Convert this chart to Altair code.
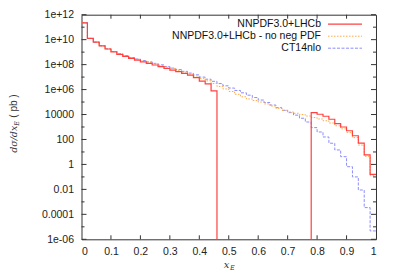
import altair as alt
import pandas as pd

# ---------------- data ----------------
series_names = ["NNPDF3.0+LHCb", "NNPDF3.0+LHCb - no neg PDF", "CT14nlo"]
series_colors = ["#ff4040", "#ffaa44", "#8c8cff"]

bin_start = [round(0.02 * i, 2) for i in range(50)]
bin_end_last = 1.0

# log10 of dsigma/dx_E (pb) per bin; None = negative (off-scale)
red_log = [11.35, 10.1, 9.8, 9.5, 9.25, 9.02, 8.82, 8.66, 8.5, 8.36,
           8.22, 8.1, 7.97, 7.84, 7.7, 7.56, 7.43, 7.3, 7.15, 6.96,
           6.68, 6.45, 5.9,
           None, None, None, None, None, None, None, None,
           None, None, None, None, None, None, None, None,
           4.15, 4.02, 3.86, 3.62, 3.27, 3.0, 2.7, 2.3, 1.7, 0.76, -0.8]
orange_log = [11.35, 10.1, 9.8, 9.51, 9.26, 9.04, 8.85, 8.7, 8.55, 8.42,
              8.3, 8.18, 8.06, 7.93, 7.8, 7.67, 7.54, 7.4, 7.25, 7.08,
              6.9, 6.7, 6.48,
              6.25, 6.05, 5.85, 5.62, 5.42, 5.25, 5.12, 5.0,
              4.85, 4.68, 4.5, 4.33, 4.2, 4.1, 4.0, 3.88,
              3.76, 3.64, 3.5, 3.32, 3.1, 2.85, 2.55, 2.15, 1.55, 0.65, -0.9]
blue_log = [11.35, 10.1, 9.8, 9.52, 9.27, 9.05, 8.87, 8.72, 8.57, 8.45,
            8.33, 8.22, 8.1, 7.98, 7.85, 7.72, 7.6, 7.46, 7.32, 7.18,
            7.0, 6.83, 6.66,
            6.48, 6.3, 6.12, 5.93, 5.74, 5.55, 5.36, 5.16,
            4.96, 4.76, 4.55, 4.34, 4.15, 3.95, 3.7, 3.4,
            2.95, 2.6, 2.2, 1.7, 1.16, 0.62, -0.18, -1.0, -2.05, -3.46, -5.33]

x_ticks = [0, 0.1, 0.2, 0.3, 0.4, 0.5, 0.6, 0.7, 0.8, 0.9, 1]
y_exponents = [-6, -4, -2, 0, 2, 4, 6, 8, 10, 12]
y_labels = ["1e-06", "0.0001", "0.01", "1", "100", "10000", "1e+06", "1e+08", "1e+10", "1e+12"]
y_minor_exponents = [-5, -3, -1, 1, 3, 5, 7, 9, 11]

OFF_SCALE = 1e-30  # negative values: drawn below the axis (clipped)

# ---------------- layout ----------------
W, H = 294.5, 224.6
FONT = "Liberation Sans"

xscale = alt.Scale(domain=[0, 1], nice=False, zero=False)
yscale = alt.Scale(type="log", domain=[1e-6, 1e12], nice=False)


def series_df(name, logs):
    xs = bin_start + [bin_end_last]
    vals = logs + [logs[-1]]
    return pd.DataFrame({
        "x": xs,
        "y": [OFF_SCALE if v is None else 10 ** v for v in vals],
        "series": name,
    })


label_expr = "".join(
    f"round(log(datum.value)/LN10) == {e} ? '{l}' : " for e, l in zip(y_exponents, y_labels)
) + "''"

xaxis = alt.Axis(values=x_ticks, format="~g", ticks=False, domain=False, grid=False,
                 labelPadding=7, title=None, labelFont=FONT, labelFontSize=10.5,
                 labelColor="#222")
yaxis = alt.Axis(values=[10.0 ** e for e in y_exponents], labelExpr=label_expr, ticks=False,
                 domain=False, grid=False, labelPadding=8, title=None, labelFont=FONT,
                 labelFontSize=10.5, labelColor="#222")

styles = {
    series_names[0]: dict(strokeWidth=1.2, strokeDash=[1, 0]),
    series_names[1]: dict(strokeWidth=1.0, strokeDash=[1.5, 1.5]),
    series_names[2]: dict(strokeWidth=1.0, strokeDash=[3, 1.5]),
}

layers = []
# draw blue, orange, red (red on top)
for name, logs, col in [(series_names[2], blue_log, series_colors[2]),
                        (series_names[1], orange_log, series_colors[1]),
                        (series_names[0], red_log, series_colors[0])]:
    st = styles[name]
    layers.append(
        alt.Chart(series_df(name, logs)).mark_line(
            interpolate="step-after", clip=True, color=col,
            strokeWidth=st["strokeWidth"], strokeDash=st["strokeDash"]
        ).encode(
            x=alt.X("x:Q", scale=xscale, axis=xaxis),
            y=alt.Y("y:Q", scale=yscale, axis=yaxis),
        )
    )

# inward ticks (gnuplot style)
ymaj = pd.DataFrame({"y": [10.0 ** e for e in y_exponents]})
ymin = pd.DataFrame({"y": [10.0 ** e for e in y_minor_exponents]})
xt = pd.DataFrame({"x": x_ticks[1:-1]})
tick_color = "#333"
for df, ln in [(ymaj, 5), (ymin, 3)]:
    layers.append(alt.Chart(df).mark_rule(color=tick_color, strokeWidth=1).encode(
        y=alt.Y("y:Q", scale=yscale, axis=yaxis), x=alt.value(0), x2=alt.value(ln)))
    layers.append(alt.Chart(df).mark_rule(color=tick_color, strokeWidth=1).encode(
        y=alt.Y("y:Q", scale=yscale, axis=yaxis), x=alt.value(W), x2=alt.value(W - ln)))
layers.append(alt.Chart(xt).mark_rule(color=tick_color, strokeWidth=1).encode(
    x=alt.X("x:Q", scale=xscale, axis=xaxis), y=alt.value(H), y2=alt.value(H - 4)))
layers.append(alt.Chart(xt).mark_rule(color=tick_color, strokeWidth=1).encode(
    x=alt.X("x:Q", scale=xscale, axis=xaxis), y=alt.value(0), y2=alt.value(4)))

# legend (labels left, samples right, gnuplot style)
one = pd.DataFrame({"a": [0]})
for i, (name, col) in enumerate(zip(series_names, series_colors)):
    ly = 9.5 + 12 * i
    st = styles[name]
    layers.append(alt.Chart(one).mark_text(
        align="right", baseline="middle", font=FONT, fontSize=10.5, color="#111"
    ).encode(x=alt.value(239.5), y=alt.value(ly), text=alt.value(name)))
    layers.append(alt.Chart(one).mark_rule(
        color=col, strokeWidth=st["strokeWidth"], strokeDash=st["strokeDash"]
    ).encode(x=alt.value(246.5), x2=alt.value(280.5), y=alt.value(ly)))

# axis titles
TX = -67.5
layers.append(alt.Chart(one).mark_text(
    align="right", baseline="middle", font="DejaVu Serif", fontStyle="italic", fontSize=9.5,
    color="#333", angle=270
).encode(x=alt.value(TX), y=alt.value(111), text=alt.value("dσ/dx")))
layers.append(alt.Chart(one).mark_text(
    align="left", baseline="middle", font="DejaVu Serif", fontStyle="italic", fontSize=6.5,
    color="#333", angle=270
).encode(x=alt.value(TX + 2.5), y=alt.value(111), text=alt.value("E")))
layers.append(alt.Chart(one).mark_text(
    align="left", baseline="middle", font=FONT, fontSize=10,
    color="#333", angle=270
).encode(x=alt.value(TX), y=alt.value(103), text=alt.value("( pb )")))

layers.append(alt.Chart(one).mark_text(
    align="right", baseline="middle", font="DejaVu Serif", fontStyle="italic", fontSize=10,
    color="#333"
).encode(x=alt.value(148), y=alt.value(H + 26), text=alt.value("x")))
layers.append(alt.Chart(one).mark_text(
    align="left", baseline="middle", font="DejaVu Serif", fontStyle="italic", fontSize=6.5,
    color="#333"
).encode(x=alt.value(148.5), y=alt.value(H + 28.5), text=alt.value("E")))

chart = alt.layer(*layers).properties(
    width=W, height=H,
    autosize=alt.AutoSizeParams(type="none"),
    padding={"left": 73.5, "top": 6.7, "right": 14, "bottom": 31.5},
).configure_view(stroke="#333", strokeWidth=1)

chart.save("out.html", embed_options={"renderer": "svg", "actions": False})
